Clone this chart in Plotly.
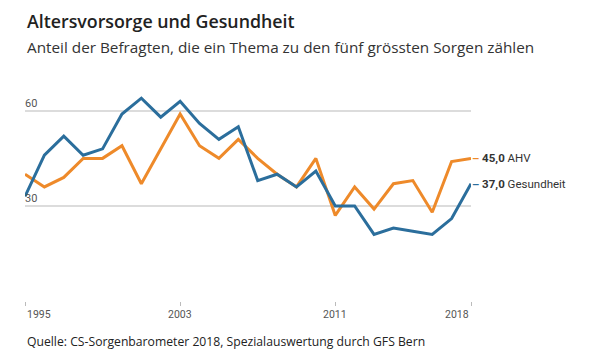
import plotly.graph_objects as go

years = list(range(1995, 2019))
ahv = [40, 36, 39, 45, 45, 49, 37, 48, 59, 49, 45, 51, 45, 40, 36, 45, 27, 36, 29, 37, 38, 28, 44, 45]
gesundheit = [33, 46, 52, 46, 48, 59, 64, 58, 63, 56, 51, 55, 38, 40, 36, 41, 30, 30, 21, 23, 22, 21, 26, 37]
x_ticks = [1995, 2003, 2011, 2018]
y_ticks = [30, 60]
series_names = ["AHV", "Gesundheit"]

ORANGE = "#ee8a2a"
BLUE = "#2b6e9c"
FONT = "Roboto, Arial, sans-serif"
FONT2 = "Open Sans, Arial, sans-serif"

fig = go.Figure()
fig.add_trace(go.Scatter(x=years, y=ahv, mode="lines", name=series_names[0],
                         line=dict(color=ORANGE, width=3), cliponaxis=False))
fig.add_trace(go.Scatter(x=years, y=gesundheit, mode="lines", name=series_names[1],
                         line=dict(color=BLUE, width=3), cliponaxis=False))

annotations = []
for i, yr in enumerate(x_ticks):
    anchor = "left" if i == 0 else ("right" if i == len(x_ticks) - 1 else "center")
    annotations.append(dict(x=yr, y=0, xref="x", yref="y", text=str(yr), showarrow=False,
                            xanchor=anchor, yanchor="top", yshift=-5,
                            font=dict(family=FONT, size=10.5, color="#555")))
for v in y_ticks:
    annotations.append(dict(x=0, y=v, xref="paper", yref="y", text=str(v), showarrow=False,
                            xanchor="left", yanchor="bottom", xshift=-2, yshift=-1,
                            font=dict(family=FONT, size=11, color="#555")))
for vals, col, name in [(ahv, ORANGE, series_names[0]), (gesundheit, BLUE, series_names[1])]:
    last = vals[-1]
    txt = f"<span style='color:{col}'><b>–</b></span> <b>{last:.1f}".replace(".", ",") + f"</b> {name}"
    annotations.append(dict(x=years[-1], y=last, xref="x", yref="y", text=txt, showarrow=False,
                            xanchor="left", yanchor="middle", xshift=-1,
                            font=dict(family=FONT, size=11.5, color="#333")))

fig.update_layout(
    width=601, height=357,
    margin=dict(l=25, r=130, t=95, b=56),
    paper_bgcolor="white", plot_bgcolor="white",
    showlegend=False,
    annotations=annotations,
    xaxis=dict(range=[1995, 2018], tickvals=x_ticks, showticklabels=False,
               ticks="outside", ticklen=4, tickcolor="#bbb", tickwidth=1,
               showgrid=False, zeroline=False, showline=False, fixedrange=True),
    yaxis=dict(range=[0, 65], tickvals=y_ticks, showticklabels=False,
               showgrid=True, gridcolor="#dcdcdc", gridwidth=1.5,
               zeroline=False, showline=False, fixedrange=True),
)

fig.add_annotation(x=0, y=1, xref="paper", yref="paper", xshift=0, yshift=74,
                   text="Altersvorsorge und Gesundheit", showarrow=False,
                   xanchor="left", yanchor="middle",
                   font=dict(family=FONT2, size=17.8, color="#222", weight=600))
fig.add_annotation(x=0, y=1, xref="paper", yref="paper", xshift=0, yshift=48,
                   text="Anteil der Befragten, die ein Thema zu den fünf grössten Sorgen zählen",
                   showarrow=False, xanchor="left", yanchor="middle",
                   font=dict(family=FONT2, size=15.3, color="#333"))
fig.add_annotation(x=0, y=0, xref="paper", yref="paper", xshift=0, yshift=-40,
                   text="Quelle: CS-Sorgenbarometer 2018, Spezialauswertung durch GFS Bern",
                   showarrow=False, xanchor="left", yanchor="middle",
                   font=dict(family=FONT2, size=12.2, color="#222"))

fig.write_html("out.html", post_script="document.body.style.margin='0';",
               config={"displayModeBar": False})
